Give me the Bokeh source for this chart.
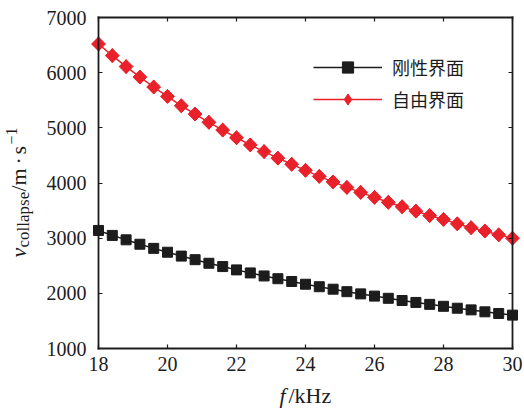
import math
from bokeh.plotting import figure
from bokeh.models import (Range1d, LinearAxis, FixedTicker, Label, Legend, LegendItem)
from bokeh.embed import file_html
from bokeh.resources import INLINE

freq_khz = [18.0, 18.4, 18.8, 19.2, 19.6, 20.0, 20.4, 20.8, 21.2, 21.6, 22.0,
            22.4, 22.8, 23.2, 23.6, 24.0, 24.4, 24.8, 25.2, 25.6, 26.0, 26.4,
            26.8, 27.2, 27.6, 28.0, 28.4, 28.8, 29.2, 29.6, 30.0]
rigid = [3140, 3050, 2970, 2890, 2815, 2745, 2675, 2610, 2545, 2485, 2425,
         2370, 2315, 2265, 2215, 2165, 2120, 2075, 2030, 1990, 1950, 1910,
         1870, 1835, 1800, 1765, 1730, 1700, 1665, 1635, 1605]
free = [6520, 6310, 6110, 5920, 5740, 5570, 5400, 5250, 5100, 4960, 4820,
        4690, 4570, 4450, 4340, 4230, 4120, 4020, 3920, 3830, 3740, 3650,
        3570, 3490, 3410, 3340, 3260, 3190, 3130, 3060, 3000]
series_names = ["刚性界面", "自由界面"]
x_ticks = [18, 20, 22, 24, 26, 28, 30]
y_ticks = [1000, 2000, 3000, 4000, 5000, 6000, 7000]
x_lo, x_hi = 18, 30
y_lo, y_hi = 1000, 7000

W, H = 524, 410
# pixel box of the plotting area inside the canvas
BOX_L, BOX_R, BOX_T, BOX_B = 98, 512, 17, 348

SERIF = "Liberation Serif"
BLACK = "#1c1c1c"
RED = "#e8212b"

xs = (x_hi - x_lo) / (BOX_R - BOX_L)
ys = (y_hi - y_lo) / (BOX_B - BOX_T)
x_range = Range1d(x_lo - BOX_L * xs, x_hi + (W - BOX_R) * xs)
y_range = Range1d(y_lo - (H - BOX_B) * ys, y_hi + BOX_T * ys)

p = figure(width=W, height=H, output_backend="svg", toolbar_location=None,
           x_range=x_range, y_range=y_range, min_border=0, title=None)
p.background_fill_color = "white"
p.border_fill_color = "white"
p.grid.visible = False
p.outline_line_color = None


def style_axis(ax, show_labels):
    ax.axis_line_color = BLACK
    ax.axis_line_width = 1.8
    ax.axis_line_cap = "square"
    ax.major_tick_in = 4
    ax.major_tick_out = 0
    ax.minor_tick_line_color = None
    ax.major_tick_line_color = BLACK
    ax.major_tick_line_width = 1.2
    if show_labels:
        ax.major_label_text_font = SERIF
        ax.major_label_text_font_size = "20px"
        ax.major_label_text_color = BLACK
    else:
        ax.major_label_text_color = None


xb = p.xaxis[0]
yl = p.yaxis[0]
xb.ticker = FixedTicker(ticks=x_ticks)
yl.ticker = FixedTicker(ticks=y_ticks)
xb.bounds = (x_lo, x_hi)
yl.bounds = (y_lo, y_hi)
xb.fixed_location = y_lo
yl.fixed_location = x_lo
style_axis(xb, True)
style_axis(yl, True)
xb.major_label_standoff = 8
yl.major_label_standoff = 12

xt = LinearAxis(ticker=FixedTicker(ticks=x_ticks), bounds=(x_lo, x_hi),
                fixed_location=y_hi)
yr = LinearAxis(ticker=FixedTicker(ticks=y_ticks), bounds=(y_lo, y_hi),
                fixed_location=x_hi)
style_axis(xt, False)
style_axis(yr, False)
p.add_layout(xt, "above")
p.add_layout(yr, "right")

l1 = p.line(freq_khz, rigid, line_color=BLACK, line_width=1.5)
m1 = p.scatter(freq_khz, rigid, marker="square", size=10, fill_color=BLACK,
               line_color=BLACK)
l2 = p.line(freq_khz, free, line_color=RED, line_width=1.5)
d2 = p.scatter(freq_khz, free, marker="diamond", size=13.8, fill_color=RED,
               line_color=RED)
m2 = p.scatter(freq_khz, free, marker="square", angle=math.pi / 4, size=9.8,
               fill_color=RED, line_color=RED)

legend = Legend(items=[LegendItem(label=series_names[0], renderers=[l1, m1]),
                       LegendItem(label=series_names[1], renderers=[l2, d2])],
                location=(313, H - 113), padding=0, margin=0, spacing=4,
                glyph_width=69, glyph_height=28, label_height=20,
                label_standoff=10, border_line_color=None,
                background_fill_alpha=0,
                label_text_font="Noto Sans CJK SC", label_text_font_size="18px",
                label_text_color=BLACK)
p.add_layout(legend)


def add_text(text, px, py, size, italic=False, angle=0.0):
    p.add_layout(Label(x=px, y=H - py, x_units="screen", y_units="screen",
                       text=text, angle=angle, text_font=SERIF,
                       text_font_style="italic" if italic else "normal",
                       text_font_size=size, text_color=BLACK,
                       text_baseline="alphabetic", text_align="left"))


# x axis title: f/kHz
add_text("f", 279, 395, "22px", italic=True)
add_text("/kHz", 288, 395, "22px")

# y axis title: v_collapse / m·s^-1 (rotated, reading upwards)
up = math.pi / 2
add_text("v", 18, 257, "22px", italic=True, angle=up)
add_text("collapse", 23, 247, "17px", angle=up)
add_text("/m", 18, 191, "22px", angle=up)
add_text("·", 18, 164, "22px", angle=up)
add_text("s", 18, 154, "22px", angle=up)
add_text("−1", 11, 144, "16px", angle=up)

open("out.html", "w").write(file_html(p, INLINE))
